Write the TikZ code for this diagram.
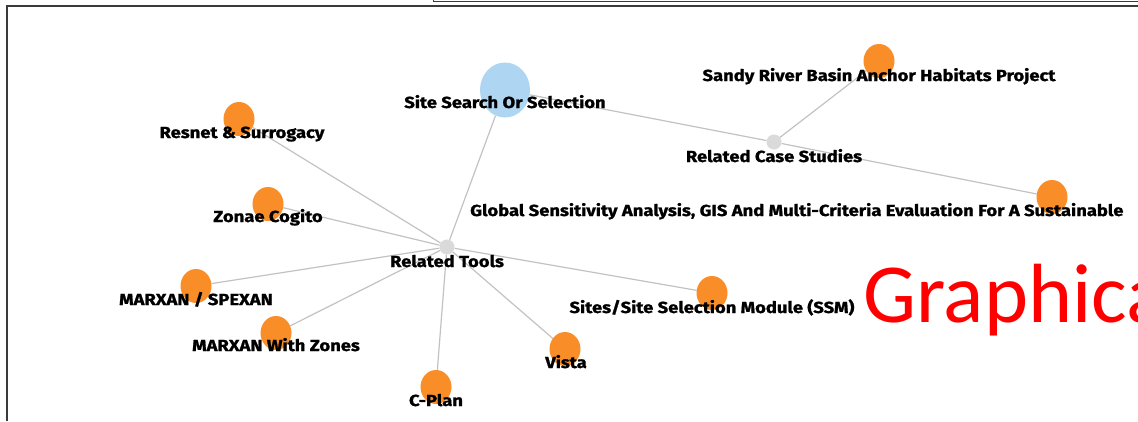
\documentclass[tikz,border=0pt]{standalone}
\usepackage{fontspec}
\setmainfont{Fira Sans}[BoldFeatures={FakeBold=1.2,FakeStretch=1.15}]
\newfontfamily\calibri{Carlito}
\usetikzlibrary{positioning,calc,backgrounds,shapes.geometric}

\definecolor{leaforange}{HTML}{F98D27}
\definecolor{topicblue}{HTML}{AED5F1}
\definecolor{hubgray}{HTML}{DADADA}
\definecolor{linkgray}{HTML}{C2C2C2}
\definecolor{framegray}{HTML}{3A3A3A}

\begin{document}
\begin{tikzpicture}[x=1pt,y=-1pt,
  leaf/.style={ellipse,fill=leaforange,minimum width=31pt,minimum height=34pt,inner sep=0pt},
  topic/.style={ellipse,fill=topicblue,minimum width=50pt,minimum height=55pt,inner sep=0pt},
  hub/.style={circle,fill=hubgray,minimum size=15pt,inner sep=0pt},
  caption/.style={anchor=base,inner sep=0pt,font=\bfseries\fontsize{16}{16}\selectfont},
  link/.style={draw=linkgray,line width=1.2pt}]
\useasboundingbox (0,0) rectangle (1138,421);
\clip (0,0) rectangle (1138,421);

%% Frame
\draw[framegray,line width=1.5pt] (7,421) -- (7,6) -- (1138,6);
\draw[framegray,line width=1pt] (433,0) -- (433,1.5) -- (1138,1.5);

%% Hubs and topic
\node (topic) [topic] at (505,90) {};
\node (tools) [hub] at (447,247) {};
\node (cases) [hub] at (774,142) {};

%% Related tools
\node (resnet) [leaf] at (239,119) {};
\node (zonae)  [leaf] at (268,204) {};
\node (spexan) [leaf] at (196,286) {};
\node (zones)  [leaf] at (276,333) {};
\node (cplan)  [leaf] at (436,387) {};
\node (vista)  [leaf] at (565,349) {};
\node (ssm)    [leaf] at (712,293) {};

%% Related case studies
\node (sandy)  [leaf] at (879,61) {};
\node (global) [leaf] at (1052,197) {};

%% Links
\begin{scope}[on background layer]
\draw[link] (tools) -- (topic);
\draw[link] (topic) -- (cases);
\draw[link] (cases) -- (sandy);
\draw[link] (cases) -- (global);
\foreach \leaf in {resnet,zonae,spexan,zones,cplan,vista,ssm}
  \draw[link] (tools) -- (\leaf);
\end{scope}

%% Captions
\node (topic-txt)  [caption] at ($(topic)+(0,18)$)  {Site Search Or Selection};
\node (tools-txt)  [caption] at ($(tools)+(0,20)$)  {Related Tools};
\node (cases-txt)  [caption] at ($(cases)+(0,20)$)  {Related Case Studies};
\node (resnet-txt) [caption] at ($(resnet)+(3,19)$) {Resnet \& Surrogacy};
\node (zonae-txt)  [caption] at ($(zonae)+(0,18)$)  {Zonae Cogito};
\node (spexan-txt) [caption] at ($(spexan)+(0,19)$) {MARXAN / SPEXAN};
\node (zones-txt)  [caption] at ($(zones)+(0,18)$)  {MARXAN With Zones};
\node (cplan-txt)  [caption] at ($(cplan)+(0,19)$)  {C-Plan};
\node (vista-txt)  [caption] at ($(vista)+(1,19)$)  {Vista};
\node (ssm-txt)    [caption] at ($(ssm)+(0,20)$)    {Sites/Site Selection Module (SSM)};
\node (sandy-txt)  [caption] at ($(sandy)+(0,20)$)  {Sandy River Basin Anchor Habitats Project};
\node (global-txt) [caption,anchor=base west] at (470,216)
      {Global Sensitivity Analysis, GIS And Multi-Criteria Evaluation For A Sustainable};

%% Heading
\node (heading) [anchor=base west,inner sep=0pt,text=red,font=\calibri\fontsize{84}{84}\selectfont]
      at (863,322) {Graphical};
\end{tikzpicture}
\end{document}
